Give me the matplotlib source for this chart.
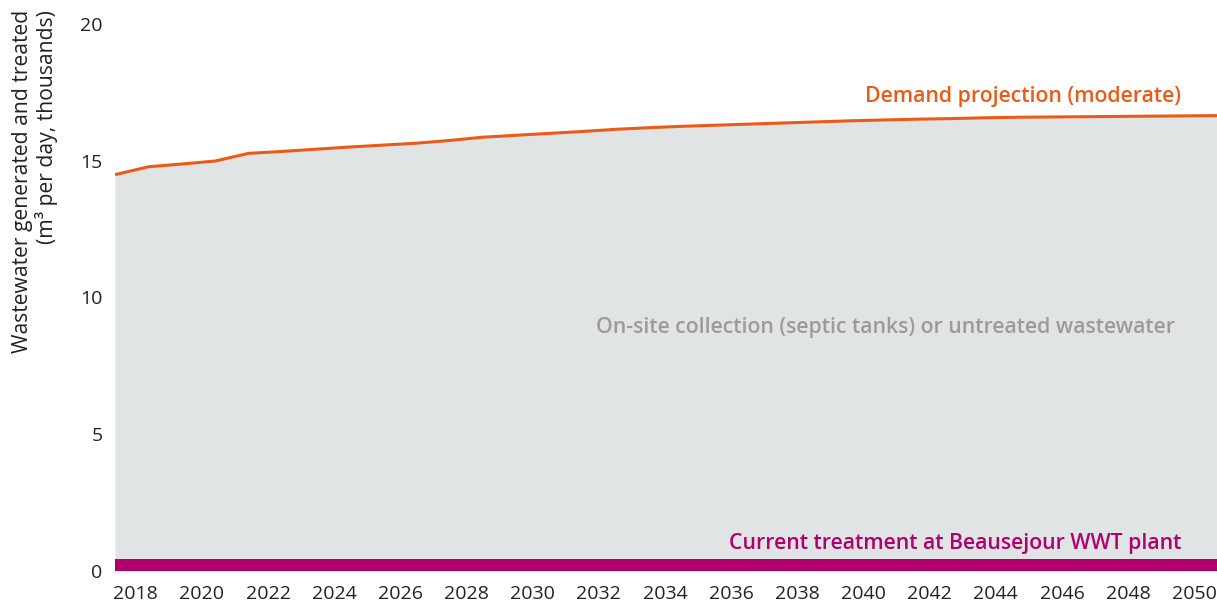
import numpy as np
import matplotlib.pyplot as plt

plt.rcParams['font.family'] = ['Open Sans', 'DejaVu Sans']

years = np.arange(2017, 2051)
demand = [14.49, 14.78, 14.88, 14.99, 15.27, 15.34, 15.42, 15.50, 15.57, 15.64,
          15.74, 15.86, 15.93, 16.00, 16.07, 16.15, 16.21, 16.26, 16.30, 16.34,
          16.38, 16.42, 16.46, 16.49, 16.52, 16.54, 16.57, 16.59, 16.60, 16.61,
          16.62, 16.63, 16.64, 16.65]
treatment = [0.45] * len(years)
tick_years = np.arange(2018, 2051, 2)

orange = '#eb5b17'
magenta = '#b0006e'
grey = '#e1e4e5'

fig = plt.figure(figsize=(12.17, 6.04), dpi=100)
ax = fig.add_axes([115/1217, 1 - 571/604, 1 - 115/1217, (571 - 24)/604])

ax.fill_between(years, 0, demand, color=grey, lw=0)
ax.plot(years, demand, color=orange, lw=2.2, solid_capstyle='butt')
ax.fill_between(years, 0, treatment, color=magenta, lw=0)

ax.set_xlim(2017, 2050)
ax.set_ylim(0, 20)
ax.set_yticks([0, 5, 10, 15, 20])
# labels sit a bit left of the data points, as in the original
ax.set_xticks(2017.62 + (tick_years - 2018) * 0.9907)
ax.set_xticklabels([str(y) for y in tick_years])
ax.tick_params(length=0, labelsize=14, colors='#222222')
ax.tick_params(axis='y', pad=9)
ax.tick_params(axis='x', pad=10)
for s in ax.spines.values():
    s.set_visible(False)

ax.text(2048.93, 16.95, 'Demand projection (moderate)', color=orange,
        fontsize=15.3, fontweight='semibold', ha='right', va='bottom')
ax.text(2048.75, 8.9, 'On-site collection (septic tanks) or untreated wastewater',
        color='#9a9b9c', fontsize=15.3, fontweight='semibold', ha='right', va='center')
ax.text(2048.93, 1.0, 'Current treatment at Beausejour WWT plant', color=magenta,
        fontsize=15.3, fontweight='semibold', ha='right', va='center')

fig.text(35/1217, 1 - 10/604, 'Wastewater generated and treated\n(m\u00b3 per day, thousands)',
         rotation=90, ha='center', va='top', multialignment='right',
         fontsize=15.2, color='#222222', linespacing=1.1)

fig.savefig('out.png', dpi=100)
